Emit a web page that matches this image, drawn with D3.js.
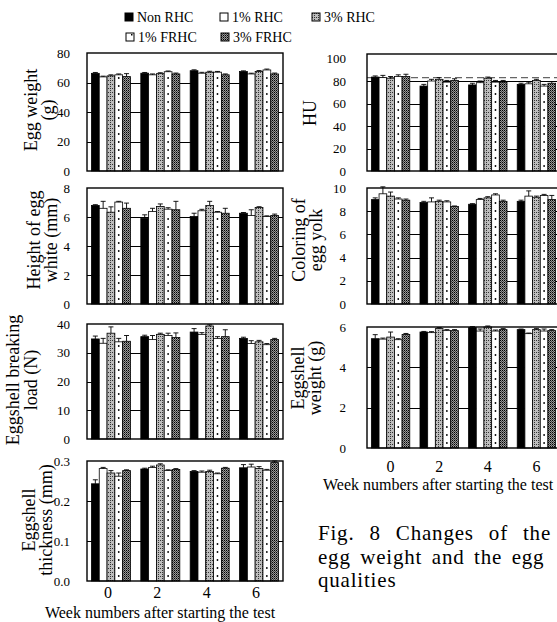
<!DOCTYPE html>
<html>
<head>
<meta charset="utf-8">
<script src="https://cdn.jsdelivr.net/npm/d3@7"></script>
<style>
  body { margin: 0; background: #fff; }
  svg { display: block; font-family: "Liberation Serif", "Times New Roman", serif; }
</style>
</head>
<body>
<svg id="chart" width="557" height="622"></svg>
<script>
"use strict";

const weeks = ["0", "2", "4", "6"];
const treatments = ["Non RHC", "1% RHC", "3% RHC", "1% FRHC", "3% FRHC"];

// rows follow treatments, columns follow weeks
const eggWeightMean = [
  [66.2, 66.3, 68.0, 67.4],
  [63.8, 65.2, 66.3, 65.8],
  [64.5, 66.0, 67.0, 67.5],
  [65.2, 67.3, 67.0, 68.5],
  [64.0, 65.8, 65.2, 65.8],
];
const eggWeightSE = [
  [0.6, 0.5, 0.6, 0.5],
  [0.5, 0.6, 0.6, 0.5],
  [0.7, 0.6, 0.6, 0.6],
  [0.6, 0.5, 0.5, 0.6],
  [2.0, 0.6, 0.6, 0.6],
];
const eggWeightTicks = [0, 20, 40, 60, 80];

const huMean = [
  [83.5, 75.5, 76.5, 77.0],
  [83.0, 80.0, 78.5, 77.5],
  [82.5, 81.5, 82.5, 80.5],
  [84.0, 79.0, 79.0, 75.5],
  [84.0, 80.5, 79.0, 78.0],
];
const huSE = [
  [1.0, 1.5, 1.5, 1.0],
  [2.0, 1.5, 1.5, 1.5],
  [1.5, 1.5, 1.0, 1.0],
  [1.5, 1.5, 1.5, 1.5],
  [2.0, 1.5, 1.5, 1.5],
];
const huTicks = [0, 20, 40, 60, 80, 100];
const huReference = 83;

const whiteHeightMean = [
  [6.80, 5.90, 6.03, 6.26],
  [6.60, 6.38, 6.43, 6.10],
  [6.33, 6.73, 6.80, 6.66],
  [7.03, 6.54, 6.33, 6.03],
  [6.60, 6.50, 6.26, 6.10],
];
const whiteHeightSE = [
  [0.05, 0.25, 0.23, 0.05],
  [0.48, 0.22, 0.10, 0.40],
  [0.37, 0.17, 0.28, 0.05],
  [0.05, 0.10, 0.05, 0.05],
  [0.36, 0.58, 0.34, 0.10],
];
const whiteHeightTicks = [0, 2, 4, 6, 8];

const yolkColorMean = [
  [9.00, 8.75, 8.60, 8.85],
  [9.50, 8.80, 9.00, 9.30],
  [9.30, 8.85, 9.15, 9.20],
  [9.05, 8.80, 9.40, 9.35],
  [8.95, 8.40, 8.85, 9.00],
];
const yolkColorSE = [
  [0.15, 0.10, 0.05, 0.10],
  [0.60, 0.35, 0.10, 0.45],
  [0.35, 0.10, 0.10, 0.10],
  [0.10, 0.10, 0.10, 0.10],
  [0.10, 0.05, 0.10, 0.36],
];
const yolkColorTicks = [0, 2, 4, 6, 8, 10];

const breakingLoadMean = [
  [34.8, 35.6, 37.2, 35.0],
  [33.3, 34.6, 36.4, 33.2],
  [36.8, 36.4, 39.3, 33.8],
  [33.8, 36.0, 35.0, 32.8],
  [34.0, 35.3, 35.6, 34.6],
];
const breakingLoadSE = [
  [1.0, 0.5, 1.2, 0.4],
  [1.7, 1.4, 0.6, 1.0],
  [2.2, 0.4, 0.4, 0.5],
  [1.2, 0.8, 0.6, 0.4],
  [2.0, 1.6, 2.4, 0.4],
];
const breakingLoadTicks = [0, 10, 20, 30, 40];

const shellWeightMean = [
  [5.42, 5.75, 5.97, 5.87],
  [5.40, 5.72, 5.80, 5.67],
  [5.50, 5.92, 6.00, 5.87],
  [5.37, 5.82, 5.80, 5.80],
  [5.63, 5.82, 5.87, 5.82],
];
const shellWeightSE = [
  [0.20, 0.03, 0.05, 0.03],
  [0.05, 0.05, 0.10, 0.03],
  [0.25, 0.05, 0.05, 0.05],
  [0.05, 0.05, 0.05, 0.10],
  [0.05, 0.05, 0.05, 0.05],
];
const shellWeightTicks = [0, 2, 4, 6];

const thicknessMean = [
  [0.243, 0.280, 0.274, 0.283],
  [0.281, 0.284, 0.272, 0.285],
  [0.270, 0.290, 0.274, 0.281],
  [0.262, 0.276, 0.268, 0.277],
  [0.276, 0.279, 0.282, 0.296],
];
const thicknessSE = [
  [0.010, 0.002, 0.002, 0.008],
  [0.003, 0.003, 0.003, 0.007],
  [0.006, 0.003, 0.003, 0.005],
  [0.008, 0.002, 0.002, 0.002],
  [0.002, 0.002, 0.002, 0.004],
];
const thicknessTicks = [0, 0.1, 0.2, 0.3];

const svg = d3.select("#chart");
const defs = svg.append("defs");

// stippled greys for the 3% groups
const p3rhc = defs.append("pattern").attr("id", "p3rhc")
  .attr("patternUnits", "userSpaceOnUse").attr("width", 4).attr("height", 4);
p3rhc.append("rect").attr("width", 4).attr("height", 4).attr("fill", "#bcbcbc");
[[0, 0], [2, 2], [2, 0]].forEach(([x, y]) =>
  p3rhc.append("rect").attr("x", x).attr("y", y).attr("width", 1).attr("height", 1).attr("fill", "#333"));

const p3frhc = defs.append("pattern").attr("id", "p3frhc")
  .attr("patternUnits", "userSpaceOnUse").attr("width", 2).attr("height", 2);
p3frhc.append("rect").attr("width", 2).attr("height", 2).attr("fill", "#999");
p3frhc.append("rect").attr("width", 1).attr("height", 1).attr("fill", "#000");
p3frhc.append("rect").attr("x", 1).attr("y", 1).attr("width", 1).attr("height", 1).attr("fill", "#444");

const fills = ["#000", "#fff", "url(#p3rhc)", "#fff", "url(#p3frhc)"];

const LEFT = { left: 87, right: 283, labelPad: 17 };
const RIGHT = { left: 367, right: 560, labelPad: 21 };

const panels = [
  { col: LEFT, top: 53, bottom: 171, max: 80, ticks: eggWeightTicks, fmt: "d",
    mean: eggWeightMean, se: eggWeightSE, title: ["Egg weight", "(g)"], tx: [31, 48], ty: 110 },
  { col: LEFT, top: 188, bottom: 304, max: 8, ticks: whiteHeightTicks, fmt: "d",
    mean: whiteHeightMean, se: whiteHeightSE, title: ["Height of egg", "white (mm)"], tx: [34, 51], ty: 240 },
  { col: LEFT, top: 324, bottom: 439, max: 40, ticks: breakingLoadTicks, fmt: "d",
    mean: breakingLoadMean, se: breakingLoadSE, title: ["Eggshell breaking", "load (N)"], tx: [13, 31], ty: 380 },
  { col: LEFT, top: 461, bottom: 581, max: 0.3, ticks: thicknessTicks, fmt: ".1f",
    mean: thicknessMean, se: thicknessSE, title: ["Eggshell", "thickness (mm)"], tx: [29, 46], ty: 520,
    weekAxis: { pad: 6, shift: -3, titleX: 160, titleY: 618, anchor: "middle" } },
  { col: RIGHT, top: 54, bottom: 171, max: 104, ticks: huTicks, fmt: "d",
    mean: huMean, se: huSE, title: ["HU"], tx: [310], ty: 113, reference: huReference },
  { col: RIGHT, top: 188, bottom: 304, max: 10, ticks: yolkColorTicks, fmt: "d",
    mean: yolkColorMean, se: yolkColorSE, title: ["Coloring of", "egg yolk"], tx: [299, 316], ty: 240 },
  { col: RIGHT, top: 327, bottom: 448, max: 6, ticks: shellWeightTicks, fmt: "d",
    mean: shellWeightMean, se: shellWeightSE, title: ["Eggshell", "weight (g)"], tx: [298, 315], ty: 378,
    weekAxis: { pad: 13, shift: 0, titleX: 323, titleY: 490, anchor: "start" } },
];

function drawPanel(p) {
  const g = svg.append("g");
  const x0 = d3.scaleBand().domain(weeks)
    .range([p.col.left, p.col.right]).paddingInner(0.21).paddingOuter(0.09);
  const x1 = d3.scaleBand().domain(treatments).range([0, x0.bandwidth()]);
  const y = d3.scaleLinear().domain([0, p.max]).range([p.bottom, p.top]);

  // grid lines sit behind the bars and only show in the gaps
  g.append("g").selectAll("line")
    .data(p.ticks.filter((t) => t > 0 && y(t) - p.top > 6))
    .join("line")
    .attr("x1", p.col.left).attr("x2", p.col.right)
    .attr("y1", (d) => Math.round(y(d)) + 0.5).attr("y2", (d) => Math.round(y(d)) + 0.5)
    .attr("stroke", "#000").attr("stroke-width", 1);

  if (p.reference !== undefined) {
    g.append("line")
      .attr("x1", p.col.left).attr("x2", p.col.right)
      .attr("y1", y(p.reference)).attr("y2", y(p.reference))
      .attr("stroke", "#666").attr("stroke-width", 1.2)
      .attr("stroke-dasharray", "7,4");
  }

  const cells = [];
  p.mean.forEach((row, i) => row.forEach((v, j) =>
    cells.push({ t: treatments[i], i, w: weeks[j], v, e: p.se[i][j] })));

  g.append("g").selectAll("rect")
    .data(cells)
    .join("rect")
    .attr("x", (d) => x0(d.w) + x1(d.t))
    .attr("y", (d) => y(d.v))
    .attr("width", x1.bandwidth())
    .attr("height", (d) => y(0) - y(d.v))
    .attr("fill", (d) => fills[d.i])
    .attr("stroke", "#000")
    .attr("stroke-width", 0.8);

  // dotted column inside the 1% FRHC bars
  const dots = [];
  cells.filter((d) => d.t === "1% FRHC").forEach((d) => {
    const cx = x0(d.w) + x1(d.t) + x1.bandwidth() / 2;
    for (let cy = y(0) - 5; cy > y(d.v) + 3; cy -= 8) dots.push([cx, cy]);
  });
  g.append("g").selectAll("circle")
    .data(dots)
    .join("circle")
    .attr("cx", (d) => d[0]).attr("cy", (d) => d[1])
    .attr("r", 0.9).attr("fill", "#000");

  // error bars (upper half only)
  const eb = g.append("g").attr("stroke", "#000").attr("stroke-width", 0.9);
  eb.selectAll("line.v")
    .data(cells)
    .join("line")
    .attr("class", "v")
    .attr("x1", (d) => x0(d.w) + x1(d.t) + x1.bandwidth() / 2)
    .attr("x2", (d) => x0(d.w) + x1(d.t) + x1.bandwidth() / 2)
    .attr("y1", (d) => y(d.v))
    .attr("y2", (d) => y(d.v + d.e));
  eb.selectAll("line.c")
    .data(cells)
    .join("line")
    .attr("class", "c")
    .attr("x1", (d) => x0(d.w) + x1(d.t) + x1.bandwidth() / 2 - 2.5)
    .attr("x2", (d) => x0(d.w) + x1(d.t) + x1.bandwidth() / 2 + 2.5)
    .attr("y1", (d) => y(d.v + d.e))
    .attr("y2", (d) => y(d.v + d.e));

  g.append("rect")
    .attr("x", p.col.left).attr("y", p.top)
    .attr("width", p.col.right - p.col.left).attr("height", p.bottom - p.top)
    .attr("fill", "none").attr("stroke", "#000").attr("stroke-width", 1.4);

  const ax = g.append("g")
    .attr("transform", `translate(${p.col.left},0)`)
    .call(d3.axisLeft(y).tickValues(p.ticks).tickSize(0)
      .tickPadding(p.col.labelPad).tickFormat(d3.format(p.fmt)));
  ax.select(".domain").remove();
  ax.selectAll("text").attr("font-size", 13).attr("font-family", "Liberation Serif").attr("fill", "#000");

  p.title.forEach((t, k) => {
    g.append("text")
      .attr("transform", `translate(${p.tx[k]},${p.ty}) rotate(-90)`)
      .attr("text-anchor", "middle")
      .attr("dominant-baseline", "central")
      .attr("font-size", 18)
      .text(t);
  });

  if (p.weekAxis) {
    const wa = p.weekAxis;
    const bx = g.append("g")
      .attr("transform", `translate(${wa.shift},${p.bottom})`)
      .call(d3.axisBottom(x0).tickSize(0).tickPadding(wa.pad));
    bx.select(".domain").remove();
    bx.selectAll("text").attr("font-size", 16).attr("font-family", "Liberation Serif").attr("fill", "#000");
    g.append("text")
      .attr("x", wa.titleX).attr("y", wa.titleY)
      .attr("text-anchor", wa.anchor)
      .attr("font-size", 16)
      .text("Week numbers after starting the test");
  }
}

panels.forEach(drawPanel);

// legend
const legendPos = [[125, 17], [220, 17], [312, 17], [126, 37], [221, 37]];
const legend = svg.append("g").selectAll("g")
  .data(treatments)
  .join("g")
  .attr("transform", (d, i) => `translate(${legendPos[i][0]},${legendPos[i][1]})`);
legend.append("rect")
  .attr("x", 0).attr("y", -4).attr("width", 8).attr("height", 8)
  .attr("fill", (d, i) => fills[i])
  .attr("stroke", "#000").attr("stroke-width", 1);
legend.filter((d) => d === "1% FRHC").append("rect")
  .attr("x", 5).attr("y", -3).attr("width", 1.5).attr("height", 1.5).attr("fill", "#000");
legend.append("text")
  .attr("x", 12).attr("y", 0)
  .attr("dominant-baseline", "central")
  .attr("font-size", 14)
  .text((d) => d);

// caption, justified like the printed column
const caption = ["Fig. 8 Changes of the", "egg weight and the egg", "qualities"];
const captionWordSpacing = [9, 3.5, 0];
svg.append("g").selectAll("text")
  .data(caption)
  .join("text")
  .attr("x", 318)
  .attr("y", (d, i) => 540 + i * 23.5)
  .attr("font-size", 21)
  .attr("letter-spacing", 0.8)
  .attr("word-spacing", (d, i) => captionWordSpacing[i])
  .text((d) => d);
</script>
</body>
</html>
